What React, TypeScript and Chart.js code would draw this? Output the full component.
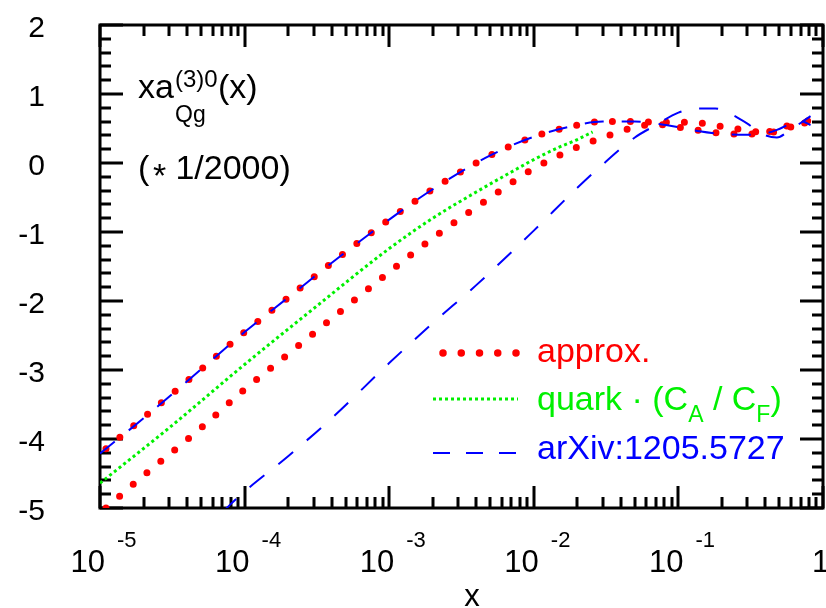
import React, { useEffect, useRef } from "react";
import { Chart, registerables } from "chart.js";

Chart.register(...registerables);

// ---- axis ranges & tick labels ----
const X_MIN = 1e-5;
const X_MAX = 1;
const Y_MIN = -5;
const Y_MAX = 2;
const xDecadeTicks = [1e-5, 1e-4, 1e-3, 1e-2, 1e-1];
const xDecadeExponents = ["-5", "-4", "-3", "-2", "-1"];
const yTickValues = [2, 1, 0, -1, -2, -3, -4, -5];
const yTickLabels = ["2", "1", "0", "-1", "-2", "-3", "-4", "-5"];

// ---- series: approx. (red dots), two branches ----
const xApproxUpper = [1.1e-5, 2e-5, 5e-5, 1e-4, 2e-4, 5e-4, 1e-3, 2e-3, 5e-3, 1e-2, 2e-2, 3e-2, 5e-2, 7e-2, 0.1, 0.14, 0.2, 0.3, 0.4, 0.55, 0.7, 0.85];
const yApproxUpper = [-4.14, -3.69, -2.99, -2.45, -1.95, -1.29, -0.82, -0.38, 0.11, 0.38, 0.55, 0.6, 0.6, 0.59, 0.59, 0.58, 0.53, 0.47, 0.44, 0.49, 0.59, 0.62];
const xApproxLower = [1.1e-5, 2e-5, 5e-5, 1e-4, 2e-4, 5e-4, 1e-3, 2e-3, 5e-3, 1e-2, 2e-2, 3e-2, 5e-2, 7e-2, 0.1, 0.14, 0.2, 0.3, 0.4, 0.55, 0.7, 0.85];
const yApproxLower = [-5.0, -4.53, -3.84, -3.28, -2.77, -2.09, -1.58, -1.09, -0.5, -0.08, 0.23, 0.37, 0.52, 0.56, 0.52, 0.47, 0.43, 0.42, 0.44, 0.53, 0.57, 0.6];

// ---- series: quark * (CA/CF) (green dotted) ----
const xQuark = [1e-5, 3e-5, 1e-4, 3e-4, 1e-3, 2e-3, 4e-3, 7e-3, 1e-2, 1.5e-2, 2e-2, 2.55e-2];
const yQuark = [-4.64, -3.84, -2.92, -2.11, -1.24, -0.8, -0.42, -0.13, 0.05, 0.23, 0.34, 0.45];

// ---- series: arXiv:1205.5727 (blue dashed), two branches ----
const xArxivUpper = [1e-5, 2e-5, 5e-5, 1e-4, 2e-4, 5e-4, 1e-3, 2e-3, 5e-3, 1e-2, 2e-2, 3e-2, 5e-2, 7e-2, 0.1, 0.14, 0.2, 0.3, 0.38, 0.48, 0.6, 0.7, 0.82];
const yArxivUpper = [-4.21, -3.7, -2.99, -2.45, -1.95, -1.29, -0.82, -0.38, 0.11, 0.38, 0.55, 0.6, 0.6, 0.57, 0.52, 0.46, 0.42, 0.41, 0.42, 0.48, 0.57, 0.61, 0.55];
const xArxivLower = [7e-5, 1e-4, 2e-4, 4e-4, 1e-3, 2e-3, 4e-3, 1e-2, 2e-2, 3e-2, 5e-2, 7e-2, 0.1, 0.14, 0.18, 0.23, 0.3, 0.38, 0.48, 0.6, 0.7, 0.82];
const yArxivLower = [-5.06, -4.76, -4.25, -3.7, -2.9, -2.32, -1.77, -0.98, -0.36, -0.02, 0.37, 0.55, 0.73, 0.79, 0.79, 0.71, 0.57, 0.42, 0.37, 0.49, 0.58, 0.68];

const RED = "#ff0000";
const GREEN = "#00f000";
const BLUE = "#0000ff";
const FONT = "'Liberation Sans', Arial, Helvetica, sans-serif";

const pts = (xs: number[], ys: number[]) => xs.map((x, i) => ({ x, y: ys[i] }));

type Run = { t: string; size: number; dy?: number; color?: string };
function drawRuns(ctx: CanvasRenderingContext2D, x: number, y: number, runs: Run[], color: string) {
  let cx = x;
  for (const r of runs) {
    ctx.font = `${r.size}px ${FONT}`;
    ctx.fillStyle = r.color || color;
    ctx.fillText(r.t, cx, y + (r.dy || 0));
    cx += ctx.measureText(r.t).width;
  }
}

const framePlugin = {
  id: "frameAndText",
  beforeDatasetsDraw(chart: any) {
    const { ctx, chartArea: a, scales } = chart;
    const xs = scales.x;
    const ys = scales.y;
    ctx.save();
    ctx.strokeStyle = "#000";
    ctx.lineWidth = 3;
    ctx.lineCap = "butt";
    ctx.setLineDash([]);
    ctx.beginPath();
    for (let e = -5; e <= 0; e++) {
      for (let m = 1; m <= 9; m++) {
        const v = m * Math.pow(10, e);
        if (v > X_MAX * 1.0001) break;
        const px = Math.round(xs.getPixelForValue(v));
        const len = m === 1 ? 22 : 11;
        ctx.moveTo(px, a.bottom);
        ctx.lineTo(px, a.bottom - len);
        ctx.moveTo(px, a.top);
        ctx.lineTo(px, a.top + len);
      }
    }
    const nY = Math.round((Y_MAX - Y_MIN) / 0.2);
    for (let i = 0; i <= nY; i++) {
      const v = Y_MIN + i * 0.2;
      const py = Math.round(ys.getPixelForValue(v));
      const len = i % 5 === 0 ? 23 : 11;
      ctx.moveTo(a.left, py);
      ctx.lineTo(a.left + len, py);
      ctx.moveTo(a.right, py);
      ctx.lineTo(a.right - len, py);
    }
    ctx.stroke();
    ctx.strokeRect(a.left, a.top, a.right - a.left, a.bottom - a.top);
    ctx.restore();
  },
  afterDraw(chart: any) {
    const { ctx, scales } = chart;
    const xs = scales.x;
    const ys = scales.y;
    ctx.save();
    ctx.textBaseline = "alphabetic";
    // y tick labels
    ctx.fillStyle = "#000";
    ctx.font = `30px ${FONT}`;
    ctx.textAlign = "right";
    yTickValues.forEach((v, i) => {
      ctx.fillText(yTickLabels[i], 45, ys.getPixelForValue(v) + 12);
    });
    // x tick labels 10^n
    xDecadeTicks.forEach((v, i) => {
      const px = xs.getPixelForValue(v);
      ctx.textAlign = "right";
      ctx.font = `31px ${FONT}`;
      ctx.fillText("10", px + 5, 572);
      ctx.textAlign = "left";
      ctx.font = `22px ${FONT}`;
      ctx.fillText(xDecadeExponents[i], px + 17, 547);
    });
    ctx.textAlign = "left";
    ctx.font = `31px ${FONT}`;
    ctx.fillText("1", xs.getPixelForValue(1) - 11, 572);
    // x axis title
    ctx.textAlign = "center";
    ctx.fillText("x", 472, 606);

    // annotation
    ctx.textAlign = "left";
    drawRuns(ctx, 138, 98, [{ t: "xa", size: 34 }], "#000");
    drawRuns(ctx, 175, 87, [{ t: "(3)0", size: 24 }], "#000");
    drawRuns(ctx, 175, 122, [{ t: "Qg", size: 23 }], "#000");
    drawRuns(ctx, 218, 98, [{ t: "(x)", size: 34 }], "#000");
    ctx.font = `34px ${FONT}`;
    ctx.fillStyle = "#000";
    ctx.fillText("(", 138, 179);
    ctx.fillText("*", 153, 187);
    ctx.fillText(" 1/2000)", 166, 179);

    // legend
    ctx.lineCap = "round";
    ctx.strokeStyle = RED;
    ctx.lineWidth = 7.5;
    ctx.setLineDash([0, 18.25]);
    ctx.beginPath();
    ctx.moveTo(443, 353);
    ctx.lineTo(517, 353);
    ctx.stroke();

    ctx.lineCap = "butt";
    ctx.strokeStyle = GREEN;
    ctx.lineWidth = 3;
    ctx.setLineDash([3, 3]);
    ctx.beginPath();
    ctx.moveTo(433, 399);
    ctx.lineTo(518, 399);
    ctx.stroke();

    ctx.strokeStyle = BLUE;
    ctx.lineWidth = 2;
    ctx.setLineDash([17, 16]);
    ctx.beginPath();
    ctx.moveTo(433, 453);
    ctx.lineTo(518, 453);
    ctx.stroke();
    ctx.setLineDash([]);

    drawRuns(ctx, 537, 362, [{ t: "approx.", size: 34 }], RED);
    drawRuns(
      ctx,
      537,
      410,
      [
        { t: "quark \u00b7 (C", size: 34 },
        { t: "A", size: 23, dy: 12 },
        { t: " / C", size: 34 },
        { t: "F", size: 23, dy: 12 },
        { t: ")", size: 34 },
      ],
      GREEN
    );
    drawRuns(ctx, 537, 459, [{ t: "arXiv:1205.5727", size: 34 }], BLUE);
    ctx.restore();
  },
};

export default function App() {
  const ref = useRef<HTMLCanvasElement | null>(null);
  useEffect(() => {
    if (!ref.current) return;
    const common = { pointRadius: 0, pointHoverRadius: 0, fill: false, cubicInterpolationMode: "monotone" as const };
    const chart = new Chart(ref.current, {
      type: "line",
      data: {
        datasets: [
          { ...common, label: "arXiv upper", data: pts(xArxivUpper, yArxivUpper), borderColor: BLUE, borderWidth: 2, borderDash: [19, 18] },
          { ...common, label: "arXiv lower", data: pts(xArxivLower, yArxivLower), borderColor: BLUE, borderWidth: 2, borderDash: [19, 18] },
          { ...common, label: "quark", data: pts(xQuark, yQuark), borderColor: GREEN, borderWidth: 3, borderDash: [3, 3] },
          { ...common, label: "approx upper", data: pts(xApproxUpper, yApproxUpper), borderColor: RED, borderWidth: 7, borderDash: [0, 18], borderCapStyle: "round", borderJoinStyle: "round" },
          { ...common, label: "approx lower", data: pts(xApproxLower, yApproxLower), borderColor: RED, borderWidth: 7, borderDash: [0, 18], borderCapStyle: "round", borderJoinStyle: "round" },
        ] as any,
      },
      options: {
        animation: false,
        responsive: false,
        devicePixelRatio: 1,
        layout: { padding: { left: 100, top: 25, right: 3, bottom: 100 } },
        plugins: { legend: { display: false }, tooltip: { enabled: false }, title: { display: false } },
        events: [],
        scales: {
          x: { type: "logarithmic", min: X_MIN, max: X_MAX, display: false },
          y: { type: "linear", min: Y_MIN, max: Y_MAX, display: false },
        },
      },
      plugins: [framePlugin],
    });
    return () => chart.destroy();
  }, []);
  return (
    <div style={{ position: "absolute", left: 0, top: 0, width: 826, height: 608, background: "#fff" }}>
      <canvas ref={ref} width={826} height={608} style={{ display: "block", width: 826, height: 608 }} />
    </div>
  );
}
